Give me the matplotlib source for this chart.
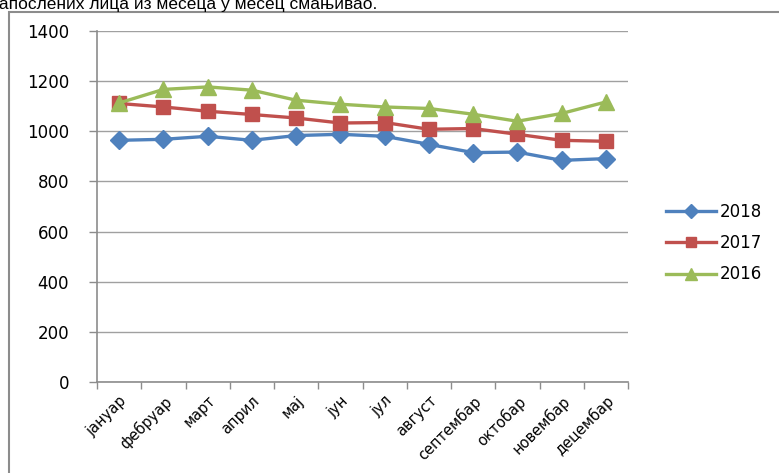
import matplotlib.pyplot as plt
from matplotlib.patches import Rectangle

months = ['јануар', 'фебруар', 'март', 'април', 'мај', 'јун', 'јул',
          'август', 'септембар', 'октобар', 'новембар', 'децембар']
y2018 = [964, 968, 980, 964, 983, 988, 980, 948, 915, 917, 884, 891]
y2017 = [1111, 1097, 1080, 1067, 1053, 1033, 1035, 1008, 1011, 988, 964, 960]
y2016 = [1113, 1167, 1177, 1164, 1124, 1108, 1097, 1091, 1068, 1040, 1071, 1117]

W, H = 779, 473
fig = plt.figure(figsize=(W / 100, H / 100), dpi=100)

# chart frame, open to the right and bottom
fig.patches.append(Rectangle((9 / W, -0.1), 1.2, (H - 12) / H + 0.1,
                             transform=fig.transFigure, fill=False,
                             edgecolor='#8c8c8c', linewidth=1.5))

# caption line sitting above the frame
fig.text(-9 / W, (H - 9) / H, 'запослених лица из месеца у месец смањивао.',
         family='Liberation Sans', fontsize=12.5, va='baseline', ha='left')

ax = fig.add_axes([97 / W, (H - 382) / H, (628 - 97) / W, (382 - 31) / H])

x = list(range(len(months)))
ax.plot(x, y2018, color='#4F81BD', lw=2.4, marker='D', ms=9, label='2018')
ax.plot(x, y2017, color='#C0504D', lw=2.4, marker='s', ms=10, label='2017')
ax.plot(x, y2016, color='#9BBB59', lw=2.4, marker='^', ms=11, label='2016')

ax.set_ylim(0, 1400)
ax.set_yticks(range(0, 1401, 200))
ax.set_xlim(-0.5, len(months) - 0.5)
ax.set_xticks(x)
ax.set_xticklabels(months, rotation=45, ha='right', rotation_mode='anchor',
                   fontsize=10.5)
ax.set_xticks([i - 0.5 for i in range(len(months) + 1)], minor=True)
ax.tick_params(axis='x', which='major', length=0, pad=8)
ax.tick_params(axis='x', which='minor', length=5, color='#8c8c8c', width=1)
ax.tick_params(axis='y', length=6, color='#8c8c8c', width=1, labelsize=12, pad=14)

ax.grid(axis='y', color='#a0a0a0', linewidth=1)
ax.set_axisbelow(True)
for side in ('top', 'right'):
    ax.spines[side].set_visible(False)
for side in ('left', 'bottom'):
    ax.spines[side].set_color('#8c8c8c')
    ax.spines[side].set_linewidth(1.2)

fig.legend(loc='center left', bbox_to_anchor=(651 / W, 1 - 243 / H),
           frameon=False, fontsize=12, handlelength=3.0, labelspacing=0.8,
           handletextpad=0.25, markerscale=0.75)

fig.savefig('out.png', dpi=100)
